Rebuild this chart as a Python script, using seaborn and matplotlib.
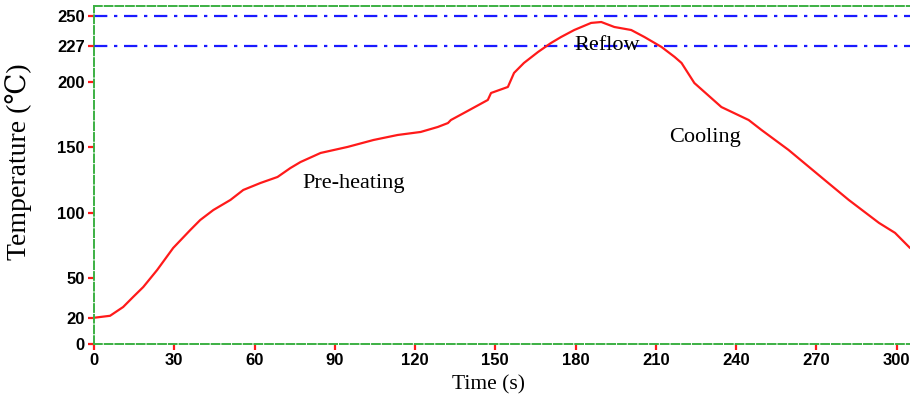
import matplotlib
matplotlib.use("Agg")
import matplotlib.pyplot as plt
import seaborn as sns
import pandas as pd

# Reflow temperature profile
time_s = [0, 6.0, 10.9, 14.6, 18.4, 23.6, 29.6, 36.0, 39.7, 44.6, 51.0, 55.8,
          62.2, 68.6, 73.4, 77.2, 84.7, 94.8, 104.5, 113.5, 122.1, 128.5, 132.3,
          133.4, 138.3, 147.2, 148.4, 154.7, 157.0, 160.7, 166.0, 170.8, 174.6,
          179.5, 185.8, 189.6, 194.5, 200.8, 205.7, 212.1, 217.0, 219.6, 224.4,
          234.5, 244.7, 249.5, 259.6, 273.1, 282.1, 293.4, 299.4, 305.0]
temp_c = [20, 21.5, 28.2, 35.8, 43.4, 56.4, 73.2, 86.9, 94.5, 102.1, 109.8, 117.4,
          122.7, 127.3, 134.1, 138.7, 145.6, 150.2, 155.5, 159.3, 161.6, 165.4, 168.4,
          170.7, 176.1, 186.0, 191.3, 195.9, 206.6, 214.2, 222.6, 229.4, 234.0,
          239.3, 244.7, 245.4, 241.6, 239.3, 234.0, 226.4, 218.8, 214.2, 198.9,
          180.6, 170.7, 163.1, 147.9, 125.0, 109.8, 92.3, 84.7, 73.2]

ref_lines = [250, 227]
x_ticks = [0, 30, 60, 90, 120, 150, 180, 210, 240, 270, 300]
y_ticks = [0, 20, 50, 100, 150, 200, 227, 250]
phase_labels = ["Pre-heating", "Reflow", "Cooling"]
phase_x = [97, 192, 228.5]
phase_y = [122.5, 227.5, 157]

df = pd.DataFrame({"Time": time_s, "Temp": temp_c})

sns.set_theme(style="white")
plt.rcParams["font.family"] = ["Liberation Sans", "DejaVu Sans"]
plt.rcParams["text.color"] = "black"
plt.rcParams["axes.labelcolor"] = "black"

fig = plt.figure(figsize=(9.1, 4.09), dpi=100)
ax = fig.add_axes([94 / 910, 1 - 344 / 409, 1 - 94 / 910, (344 - 6) / 409])

sns.lineplot(data=df, x="Time", y="Temp", ax=ax, color="#ff1a1a", linewidth=1.6,
             estimator=None, sort=False)

for v in ref_lines:
    ax.axhline(v, color="#1a1aff", linewidth=1.6, linestyle=(0, (6, 3, 1.5, 3)), zorder=1)

ax.set_xlim(0, 305)
ax.set_ylim(0, 257.6)
ax.set_xticks(x_ticks)
ax.set_yticks(y_ticks)
ax.set_xticklabels([str(v) for v in x_ticks], fontweight="bold", fontsize=12)
ax.set_yticklabels([str(v) for v in y_ticks], fontweight="bold", fontsize=12)
ax.tick_params(axis="both", which="major", direction="out", length=4, width=1.6,
               color="#ff1a1a", labelcolor="black", bottom=True, left=True, pad=2.5)

serif = ["Liberation Serif", "DejaVu Serif", "DejaVu Sans"]
ax.set_xlabel("Time (s)", family=serif, fontsize=15.5, color="black")
ax.set_ylabel("Temperature (℃)", family=serif, fontsize=20, color="black")
ax.xaxis.set_label_coords(0.483, -0.093)
ax.yaxis.set_label_coords(-0.076, 0.54)

for lbl, px, py in zip(phase_labels, phase_x, phase_y):
    ax.text(px, py, lbl, family=serif, fontsize=16, ha="center", va="center", color="black")

for side in ["left", "bottom", "top"]:
    ax.spines[side].set_visible(True)
    ax.spines[side].set_color("#3cb043")
    ax.spines[side].set_linewidth(1.4)
    ax.spines[side].set_linestyle((0, (4, 1.5)))
ax.spines["right"].set_visible(False)
ax.grid(False)

fig.savefig("out.png", dpi=100)
